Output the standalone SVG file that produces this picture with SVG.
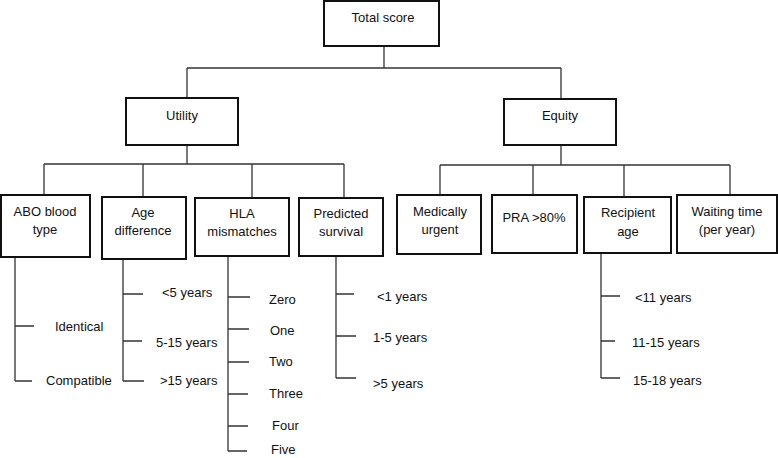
<svg xmlns="http://www.w3.org/2000/svg" width="778" height="458" viewBox="0 0 778 458">
<style>
.box{fill:#fff;stroke:#111;stroke-width:2}
.ln{fill:none;stroke:#333;stroke-width:1.3}
text{font-family:"Liberation Sans",Arial,sans-serif;font-size:13px;fill:#111}
.c{text-anchor:middle}
</style>
<rect width="778" height="458" fill="#fff"/>
<g id="connectors">
<path class="ln" d="M384 46V68M187 68H561M187 68V98M561 68V99"/>
<path class="ln" d="M187 145V164M44 164H344M44 164V195M143 164V197M252 164V198M344 164V198"/>
<path class="ln" d="M561 145V165M440 165H730M440 165V195M533 165V195M624 165V197M730 165V195"/>
<path class="ln" d="M15 257V381M15 326H34M15 381H32"/>
<path class="ln" d="M123 259V381M123 294H143M123 341H142M123 381H144"/>
<path class="ln" d="M228 256V451M228 297H250M228 329H249M228 362H249M228 394H248M228 426H248M228 451H247"/>
<path class="ln" d="M336 256V378M336 294H354M336 336H356M336 378H356"/>
<path class="ln" d="M601 253V378M601 296H620M601 341H615M601 378H620"/>
</g>
<g id="total"><rect class="box" x="324" y="1" width="115" height="45"/><text class="c" x="383" y="22">Total score</text></g>
<g id="utility"><rect class="box" x="126" y="98" width="112" height="47"/><text class="c" x="182" y="120">Utility</text></g>
<g id="equity"><rect class="box" x="504" y="99" width="112" height="46"/><text class="c" x="560" y="120">Equity</text></g>
<g id="abo"><rect class="box" x="1" y="195" width="89" height="62"/><text class="c" x="45" y="216">ABO blood</text><text class="c" x="45" y="234">type</text></g>
<g id="age"><rect class="box" x="102" y="197" width="84" height="62"/><text class="c" x="143" y="217">Age</text><text class="c" x="143" y="235">difference</text></g>
<g id="hla"><rect class="box" x="195" y="198" width="94" height="58"/><text class="c" x="242" y="218">HLA</text><text class="c" x="242" y="236">mismatches</text></g>
<g id="predicted"><rect class="box" x="299" y="198" width="84" height="58"/><text class="c" x="341" y="218">Predicted</text><text class="c" x="341" y="236">survival</text></g>
<g id="medically"><rect class="box" x="397" y="195" width="84" height="59"/><text class="c" x="440" y="216">Medically</text><text class="c" x="440" y="234">urgent</text></g>
<g id="pra"><rect class="box" x="492" y="195" width="85" height="58"/><text class="c" x="534" y="222">PRA &gt;80%</text></g>
<g id="recipient"><rect class="box" x="584" y="197" width="87" height="56"/><text class="c" x="628" y="217">Recipient</text><text class="c" x="628" y="236">age</text></g>
<g id="waiting"><rect class="box" x="677" y="195" width="100" height="58"/><text class="c" x="727" y="216">Waiting time</text><text class="c" x="727" y="234">(per year)</text></g>
<g id="abo-items"><text x="55" y="331">Identical</text><text x="46" y="385">Compatible</text></g>
<g id="age-items"><text x="162" y="297">&lt;5 years</text><text x="156" y="347">5-15 years</text><text x="160" y="385">&gt;15 years</text></g>
<g id="hla-items"><text x="269" y="304">Zero</text><text x="270" y="335">One</text><text x="269" y="366">Two</text><text x="269" y="398">Three</text><text x="272" y="430">Four</text><text x="271" y="454">Five</text></g>
<g id="predicted-items"><text x="377" y="301">&lt;1 years</text><text x="373" y="342">1-5 years</text><text x="373" y="388">&gt;5 years</text></g>
<g id="recipient-items"><text x="635" y="302">&lt;11 years</text><text x="632" y="347">11-15 years</text><text x="633" y="385">15-18 years</text></g>
</svg>
